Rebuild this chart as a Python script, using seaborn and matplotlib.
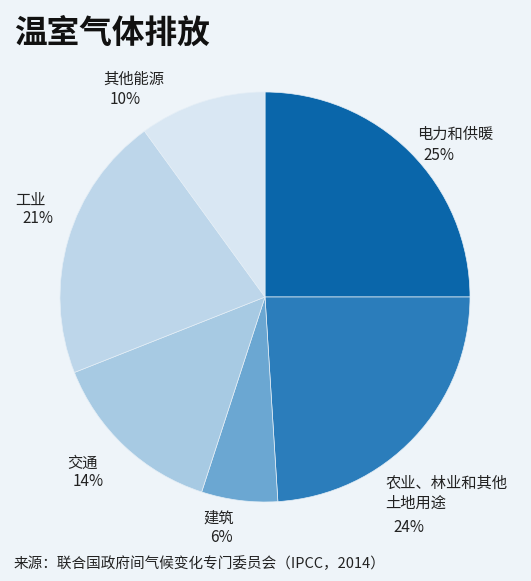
import matplotlib
matplotlib.use("Agg")
import matplotlib.pyplot as plt
import seaborn as sns

# data
sectors = ["电力和供暖", "农业、林业和其他\n土地用途", "建筑", "交通", "工业", "其他能源"]
shares = [25, 24, 6, 14, 21, 10]
pct_labels = ["25%", "24%", "6%", "14%", "21%", "10%"]
colors = ["#0a66aa", "#2b7dbb", "#6ba7d2", "#a7cae3", "#bdd6ea", "#d9e7f3"]

sns.set_theme(style="white")
plt.rcParams['font.family'] = ['Noto Sans CJK SC', 'DejaVu Sans']

bg = "#eef4f9"
W, H = 531, 581
fig = plt.figure(figsize=(W / 100, H / 100), dpi=100, facecolor=bg)

# pie centre (265, 297) px, radius 205 px
cx, cy, r = 265, 297, 205
ax = fig.add_axes([(cx - r) / W, (H - cy - r) / H, 2 * r / W, 2 * r / H])
ax.set_facecolor(bg)
ax.pie(shares, colors=colors, startangle=90, counterclock=False,
       wedgeprops=dict(linewidth=0.5, edgecolor="#e4eef6"))
ax.set_xlim(-1, 1)
ax.set_ylim(-1, 1)
ax.set_aspect("equal")
ax.axis("off")


def px(x, y, s, color="#222222", **kw):
    fig.text(x / W, 1 - y / H, s, va="center", ha="left", color=color, **kw)


# title
px(14, 33, "温室气体排放", fontsize=23.5, fontweight="bold", color="#111111")

# labels (left edge, centre y in pixels)
name_pos = [(417, 134), (385, 483), (203, 518), (67, 463), (15, 200), (103, 79)]
pct_pos = [(423, 155), (393, 527), (210, 537), (73, 482), (22, 219), (110, 99)]
for name, pct, (nx, ny), (qx, qy) in zip(sectors, pct_labels, name_pos, pct_pos):
    if "\n" in name:
        a, b = name.split("\n")
        px(nx, ny, a, fontsize=11)
        px(nx, ny + 20, b, fontsize=11)
    else:
        px(nx, ny, name, fontsize=11)
    px(qx, qy, pct, fontsize=11)

# source
px(14, 564, "来源：联合国政府间气候变化专门委员会（IPCC，2014）", fontsize=10.5)

fig.savefig("out.png", dpi=100, facecolor=bg)
